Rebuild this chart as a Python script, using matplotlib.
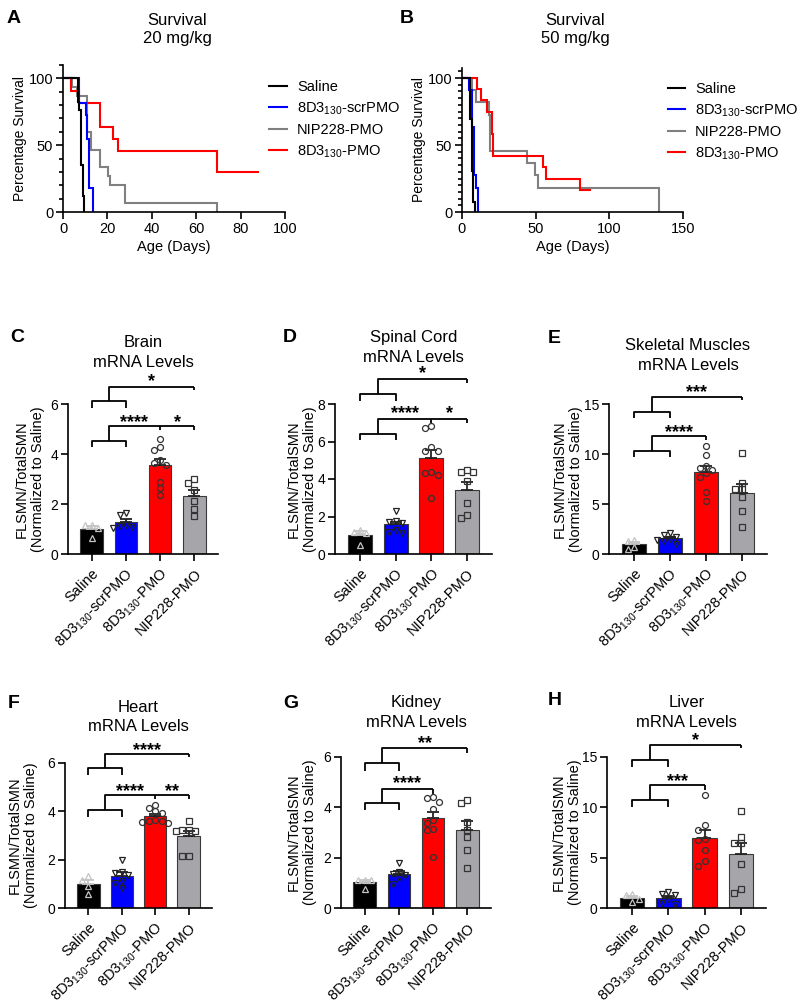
import numpy as np
import matplotlib
matplotlib.use('Agg')
import matplotlib.pyplot as plt
from matplotlib.ticker import MultipleLocator
from matplotlib.lines import Line2D

plt.rcParams['font.family'] = ['Liberation Sans', 'DejaVu Sans']
plt.rcParams['mathtext.fontset'] = 'custom'
plt.rcParams['mathtext.rm'] = 'Liberation Sans'
plt.rcParams['mathtext.it'] = 'Liberation Sans:italic'
plt.rcParams['mathtext.bf'] = 'Liberation Sans:bold'

# ---------------- data ----------------
groups = ['Saline', '8D3$_{130}$-scrPMO', '8D3$_{130}$-PMO', 'NIP228-PMO']

# Survival 20 mg/kg (step change times in days, survival %)
s20_saline_t = [0, 6.6, 7.2, 8.1, 8.9, 9.6]
s20_saline_s = [100, 82.4, 76.5, 35.3, 11.8, 0]
s20_scr_t = [0, 7.0, 10.2, 10.9, 11.7, 13.6]
s20_scr_s = [100, 81.8, 72.7, 54.5, 18.2, 0]
s20_nip_t = [0, 4.0, 6.5, 10.7, 12.5, 16.7, 20.4, 21.2, 27.9, 69.5]
s20_nip_s = [100, 93.3, 86.7, 60.0, 46.7, 33.3, 26.7, 20.0, 6.7, 0]
s20_pmo_t = [0, 3.6, 7.2, 16.7, 22.7, 24.9, 69.5, 88]
s20_pmo_s = [100, 90.9, 81.8, 63.6, 54.5, 45.5, 30.3, 30.3]

# Survival 50 mg/kg
s50_saline_t = [0, 5.7, 6.8, 7.8, 8.6]
s50_saline_s = [100, 69.2, 30.8, 7.7, 0]
s50_scr_t = [0, 4.6, 7.1, 8.0, 9.3, 10.9]
s50_scr_s = [100, 90.9, 63.6, 27.3, 18.2, 0]
s50_nip_t = [0, 6.5, 9.2, 18.1, 19.3, 43.8, 49.5, 51.7, 133.4]
s50_nip_s = [100, 90.9, 81.8, 72.7, 45.5, 36.4, 27.3, 18.2, 0]
s50_pmo_t = [0, 10.2, 13.2, 17.0, 20.4, 21.1, 54.7, 56.7, 80.0, 86.9]
s50_pmo_s = [100, 91.7, 83.3, 75.0, 58.3, 41.7, 33.3, 25.0, 16.7, 16.7]

# mRNA levels (FLSMN/TotalSMN normalized to saline), individual animals
brain_saline = [1.17, 1.17, 1.03, 0.63]
brain_scr = [1.64, 1.57, 1.12, 1.08, 1.05, 1.18]
brain_pmo = [4.60, 4.30, 4.15, 3.75, 3.65, 3.55, 2.90, 2.65, 2.35]
brain_nip = [3.01, 2.84, 2.57, 2.13, 1.80, 1.51]

spinal_saline = [1.30, 1.17, 1.12, 0.50]
spinal_scr = [2.31, 1.74, 1.70, 1.66, 1.30, 1.12, 1.20]
spinal_pmo = [6.70, 6.82, 5.70, 5.50, 5.50, 4.40, 4.30, 4.20, 3.00]
spinal_nip = [4.37, 4.50, 4.37, 3.88, 2.72, 2.10, 1.92]

muscle_saline = [1.40, 1.35, 0.70, 0.55]
muscle_scr = [2.10, 1.93, 1.70, 1.50, 1.40, 1.30, 1.00]
muscle_pmo = [10.84, 9.94, 8.85, 8.58, 8.41, 8.15, 7.68, 6.25, 5.32]
muscle_nip = [10.08, 7.15, 6.48, 6.48, 5.69, 4.26, 2.66]

heart_saline = [1.34, 1.14, 0.90, 0.60]
heart_scr = [1.97, 1.50, 1.45, 1.38, 1.12, 1.05, 0.83]
heart_pmo = [4.25, 4.14, 4.00, 3.93, 3.66, 3.59, 3.59, 3.55, 3.50]
heart_nip = [3.61, 3.21, 3.20, 3.22, 3.18, 2.17, 2.14]

kidney_saline = [1.13, 1.10, 1.10, 0.75]
kidney_scr = [1.80, 1.44, 1.37, 1.30, 1.20, 0.97]
kidney_pmo = [4.43, 4.36, 4.23, 3.92, 3.50, 3.39, 3.13, 3.10, 2.04]
kidney_nip = [4.30, 4.19, 3.43, 3.10, 2.83, 2.30, 1.57]

liver_saline = [1.35, 1.25, 0.85, 0.55]
liver_scr = [1.60, 1.40, 1.30, 0.90, 0.45, 0.35]
liver_pmo = [11.20, 8.25, 7.75, 6.82, 6.75, 5.75, 4.69, 4.16]
liver_nip = [9.68, 7.08, 6.49, 6.49, 4.36, 1.93, 1.53]

# significance labels: (pooled controls vs NIP228, pooled controls vs 8D3-PMO, 8D3-PMO vs NIP228)
sig_brain = ('*', '****', '*')
sig_spinal = ('*', '****', '*')
sig_muscle = ('***', '****', None)
sig_heart = ('****', '****', '**')
sig_kidney = ('**', '****', None)
sig_liver = ('*', '***', None)

# ---------------- style ----------------
W, H = 800, 1007
fig = plt.figure(figsize=(W / 100, H / 100), dpi=100)

def add_ax(l, r, t, b):
    return fig.add_axes([l / W, 1 - b / H, (r - l) / W, (b - t) / H])

def ftext(x, y, s, **kw):
    fig.text(x / W, 1 - y / H, s, **kw)

bar_colors = ['#000000', '#0000ff', '#ff0000', '#a5a5aa']
mk = ['^', 'v', 'o', 's']
mk_edge = ['#c4c4c4', '#222222', '#333333', '#333333']
err_col = ['#c4c4c4', '#222222', '#222222', '#222222']
line_colors = {'saline': '#000000', 'scr': '#0000ff', 'nip': '#808080', 'pmo': '#ff0000'}

SP_LW = 1.2

def style_axes(ax):
    for s in ['top', 'right']:
        ax.spines[s].set_visible(False)
    for s in ['left', 'bottom']:
        ax.spines[s].set_linewidth(SP_LW)
    ax.tick_params(width=SP_LW, length=5, labelsize=10.5, pad=2)
    ax.tick_params(which='minor', width=SP_LW, length=3)

# ---------------- survival panels ----------------
def survival(ax, curves, xmax, xticks, ymax, yminor, leg_y, ylab_x):
    for key in ['nip', 'pmo', 'scr', 'saline']:
        t, s = curves[key]
        ax.step(t, s, where='post', color=line_colors[key], lw=1.5, solid_joinstyle='miter')
    ax.set_xlim(0, xmax)
    ax.set_ylim(0, ymax)
    ax.set_xticks(xticks)
    ax.set_yticks([0, 50, 100])
    ax.yaxis.set_minor_locator(MultipleLocator(yminor))
    style_axes(ax)
    ax.set_xlabel('Age (Days)', fontsize=10.5, labelpad=3)
    ax.set_ylabel('Percentage Survival', fontsize=10, va='center')
    ax.yaxis.set_label_coords(ylab_x, 0.5)
    leg_h = [Line2D([], [], color=line_colors[k], lw=1.5) for k in ['saline', 'scr', 'nip', 'pmo']]
    leg_l = ['Saline', '8D3$_{130}$-scrPMO', 'NIP228-PMO', '8D3$_{130}$-PMO']
    ax.legend(leg_h, leg_l, loc='upper left', bbox_to_anchor=(0.93, leg_y), frameon=False,
              borderpad=0, borderaxespad=0, handlelength=1.2, handletextpad=0.7,
              labelspacing=0.42, fontsize=10.5)

axA = add_ax(63, 285, 65, 212)
survival(axA, {'saline': (s20_saline_t, s20_saline_s), 'scr': (s20_scr_t, s20_scr_s),
               'nip': (s20_nip_t, s20_nip_s), 'pmo': (s20_pmo_t, s20_pmo_s)},
         100, [0, 20, 40, 60, 80, 100], 110, 10, 0.895, -43 / 222)
axB = add_ax(462, 683, 68, 212)
survival(axB, {'saline': (s50_saline_t, s50_saline_s), 'scr': (s50_scr_t, s50_scr_s),
               'nip': (s50_nip_t, s50_nip_s), 'pmo': (s50_pmo_t, s50_pmo_s)},
         150, [0, 50, 100, 150], 107.5, 5, 0.90, -43 / 221)

ftext(177, 25, 'Survival', ha='center', va='baseline', fontsize=12)
ftext(177, 43, '20 mg/kg', ha='center', va='baseline', fontsize=12)
ftext(575, 25, 'Survival', ha='center', va='baseline', fontsize=12)
ftext(575, 43, '50 mg/kg', ha='center', va='baseline', fontsize=12)

# ---------------- bar panels ----------------
def swarm(vals, ypx, xpx, diam=5.8):
    vals = np.asarray(vals, float)
    order = np.argsort(-vals, kind='stable')
    placed = []
    res = np.zeros(len(vals))
    for i in order:
        y = vals[i] * ypx
        for k in [0, -1, 1, -2, 2, -3, 3]:
            x = k * diam * 1.1
            if all((x - px) ** 2 + (y - py) ** 2 >= diam ** 2 for px, py in placed):
                break
        placed.append((x, y))
        res[i] = x / xpx
    return res

def bracket(ax, x0, x1, xr_list, base, leg, stem, rleg):
    tr = ax.get_xaxis_transform()
    kw = dict(color='black', lw=1.3, transform=tr, clip_on=False, solid_capstyle='butt')
    ax.plot([x0, x0, x1, x1], [leg, base, base, leg], **kw)
    xm = (x0 + x1) / 2
    xr = max(xr_list)
    ax.plot([xm, xm, xr], [base, stem, stem], **kw)
    for xx in xr_list:
        ax.plot([xx, xx], [stem, rleg], **kw)

def star_text(ax, x, y, s):
    ax.annotate(s, xy=(x, y), xycoords=ax.get_xaxis_transform(), xytext=(0, -7.4),
                textcoords='offset points', ha='center', va='baseline',
                fontsize=13, fontweight='bold', annotation_clip=False)

def bar_panel(ax, data, ymax, ystep, sig, br, width_px, height_px, ylab_off):
    x = np.arange(4)
    ypx = height_px / ymax
    xpx = width_px / 4.4
    for i, vals in enumerate(data):
        v = np.asarray(vals, float)
        m = v.mean()
        sem = v.std(ddof=1) / np.sqrt(len(v))
        ax.bar(x[i], m, width=0.67, color=bar_colors[i], edgecolor='#3a3a3a', linewidth=0.8, zorder=2)
        ax.errorbar(x[i], m, yerr=[[0], [sem]], color=err_col[i], capsize=4.5, elinewidth=1.3,
                    capthick=1.3, zorder=3, fmt='none')
        offs = swarm(v, ypx, xpx)
        ax.plot(x[i] + offs, v, linestyle='none', marker=mk[i], markersize=4.3,
                markerfacecolor='none', markeredgecolor=mk_edge[i], markeredgewidth=0.9, zorder=4)
    ax.set_xlim(-0.7, 3.7)
    ax.set_ylim(0, ymax)
    ax.set_yticks(np.arange(0, ymax + 0.01, ystep))
    ax.set_xticks(x)
    ax.set_xticklabels(groups, rotation=45, ha='right', rotation_mode='anchor')
    style_axes(ax)
    ax.tick_params(axis='y', labelsize=10)
    ax.tick_params(axis='x', pad=4)
    ax.set_ylabel('FLSMN/TotalSMN\n(Normalized to Saline)', fontsize=10.5, va='center', linespacing=1.15)
    ax.yaxis.set_label_coords(-ylab_off / width_px, 0.5)
    top, low = br
    # pooled controls vs NIP228
    bracket(ax, 0, 1, [3], *top[:4])
    star_text(ax, 1.75, top[4], sig[0])
    # pooled controls vs 8D3-PMO (and PMO vs NIP228)
    xr = [2, 3] if sig[2] else [2]
    bracket(ax, 0, 1, xr, *low[:4])
    star_text(ax, 1.25, low[4], sig[1])
    if sig[2]:
        star_text(ax, 2.5, low[4], sig[2])

panels = [
    # letter, title, data, ymax, ystep, sig, (l, r, t, b), brackets, ylab offset, title baselines, letter pos
    ('C', 'Brain', [brain_saline, brain_scr, brain_pmo, brain_nip], 6, 2, sig_brain,
     (68, 218, 404, 554), ((1.02, 0.973, 1.113, 1.093, 1.187), (0.753, 0.713, 0.853, 0.827, 0.913)),
     38, (347, 367), (10, 342)),
    ('D', 'Spinal Cord', [spinal_saline, spinal_scr, spinal_pmo, spinal_nip], 8, 2, sig_spinal,
     (335, 492, 404, 554), ((1.067, 1.02, 1.167, 1.14, 1.24), (0.80, 0.76, 0.90, 0.873, 0.973)),
     33, (342, 362), (283, 342)),
    ('E', 'Skeletal Muscles', [muscle_saline, muscle_scr, muscle_pmo, muscle_nip], 15, 5, sig_muscle,
     (609, 767, 404, 554), ((0.947, 0.907, 1.047, 1.027, 1.113), (0.687, 0.647, 0.787, 0.76, 0.847)),
     41, (350, 370), (548, 343)),
    ('F', 'Heart', [heart_saline, heart_scr, heart_pmo, heart_nip], 6, 2, sig_heart,
     (65, 212, 763, 908), ((0.966, 0.917, 1.062, 1.041, 1.124), (0.676, 0.628, 0.779, 0.752, 0.841)),
     42, (712, 731), (8, 708)),
    ('G', 'Kidney', [kidney_saline, kidney_scr, kidney_pmo, kidney_nip], 6, 2, sig_kidney,
     (341, 491, 757, 908), ((0.96, 0.907, 1.06, 1.026, 1.126), (0.695, 0.649, 0.788, 0.755, 0.861)),
     39, (707, 727), (283, 708)),
    ('H', 'Liver', [liver_saline, liver_scr, liver_pmo, liver_nip], 15, 5, sig_liver,
     (607, 766, 757, 908), ((0.98, 0.934, 1.079, 1.06, 1.146), (0.715, 0.669, 0.815, 0.781, 0.874)),
     40, (707, 727), (548, 705)),
]

for letter, title, data, ymax, ystep, sig, (l, r, t, b), br, yoff, tb, lp in panels:
    ax = add_ax(l, r, t, b)
    bar_panel(ax, data, ymax, ystep, sig, br, r - l, b - t, yoff)
    cx = (l + r) / 2
    ftext(cx, tb[0], title, ha='center', va='baseline', fontsize=12)
    ftext(cx, tb[1], 'mRNA Levels', ha='center', va='baseline', fontsize=12)
    ftext(lp[0], lp[1], letter, ha='left', va='baseline', fontsize=14, fontweight='bold')

ftext(7, 23, 'A', ha='left', va='baseline', fontsize=14, fontweight='bold')
ftext(400, 23, 'B', ha='left', va='baseline', fontsize=14, fontweight='bold')

fig.savefig('out.png', dpi=100)
